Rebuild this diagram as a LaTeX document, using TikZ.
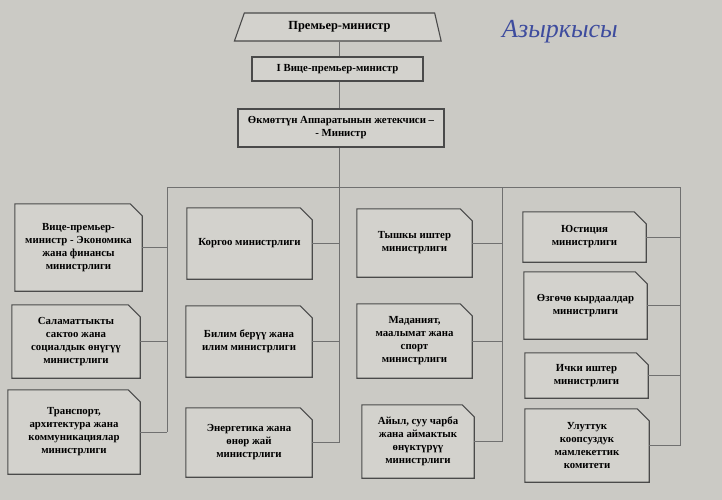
\documentclass[tikz,border=0pt]{standalone}
\usepackage{fontspec}
\setmainfont{Liberation Serif}
\usetikzlibrary{shapes.geometric, backgrounds}
\definecolor{paper}{HTML}{CBCAC5}
\definecolor{boxbg}{HTML}{D3D2CD}
\definecolor{ink}{HTML}{4A4A4A}
\definecolor{wire}{HTML}{707070}
\definecolor{pen}{HTML}{3E4C9E}

\tikzset{
  unit/.style={draw=none, minimum width=#1, inner sep=2pt, align=center,
               font=\fontsize{10.8}{13}\selectfont\bfseries},
  head/.style={draw=ink, line width=1.1pt, fill=boxbg, align=center,
               font=\fontsize{10.8}{13}\selectfont\bfseries},
  link/.style={draw=wire, line width=0.8pt}
}

\begin{document}
\begin{tikzpicture}[x=1pt, y=-1pt]
    \begin{pgfonlayer}{background}
      \fill[paper] (0,0) rectangle (722,500);
    \end{pgfonlayer}
    \useasboundingbox (0,0) rectangle (722,500);

    % top of the structure
    \node[head, trapezium, trapezium stretches=true, trapezium left angle=72,
          trapezium right angle=78, minimum width=207, minimum height=28,
          font=\fontsize{12.4}{14}\selectfont\bfseries]
          (pm) at (339.5,27) {Премьер-министр};
    \node[head, minimum width=171, minimum height=24] (vpm) at (337.5,69)
          {I Вице-премьер-министр};
    \node[head, minimum width=206, minimum height=38] (chief) at (341,128)
          {Өкмөттүн Аппаратынын жетекчиси –\\- Министр};

    % ministries, column by column
    \node[unit=127, minimum height=87] (a1) at (78.5,247.5)
          {Вице-премьер-\\министр - Экономика\\жана финансы\\министрлиги};
    \node[unit=128, minimum height=73] (a2) at (76,341.5)
          {Саламаттыкты\\сактоо жана\\социалдык өнүгүү\\министрлиги};
    \node[unit=132, minimum height=84] (a3) at (74,432)
          {Транспорт,\\архитектура жана\\коммуникациялар\\министрлиги};

    \node[unit=125, minimum height=71] (b1) at (249.5,243.5)
          {Коргоо министрлиги};
    \node[unit=126, minimum height=71] (b2) at (249,341.5)
          {Билим берүү жана\\илим министрлиги};
    \node[unit=126, minimum height=69] (b3) at (249,442.5)
          {Энергетика жана\\өнөр жай\\министрлиги};

    \node[unit=115, minimum height=68] (c1) at (414.5,243)
          {Тышкы иштер\\министрлиги};
    \node[unit=115, minimum height=74] (c2) at (414.5,341)
          {Маданият,\\маалымат жана\\спорт\\министрлиги};
    \node[unit=112, minimum height=73] (c3) at (418,441.5)
          {Айыл, суу чарба\\жана аймактык\\өнүктүрүү\\министрлиги};

    \node[unit=123, minimum height=50] (d1) at (584.5,237)
          {Юстиция\\министрлиги};
    \node[unit=123, minimum height=67] (d2) at (585.5,305.5)
          {Өзгөчө кырдаалдар\\министрлиги};
    \node[unit=123, minimum height=45] (d3) at (586.5,375.5)
          {Ички иштер\\министрлиги};
    \node[unit=124, minimum height=73] (d4) at (587,445.5)
          {Улуттук\\коопсуздук\\мамлекеттик\\комитети};

    % outlines with the cut corner, behind the texts
    \begin{pgfonlayer}{background}
      \foreach \n in {a1,a2,a3,b1,b2,b3,c1,c2,c3,d1,d2,d3,d4}
        \filldraw[draw=ink, fill=boxbg, line width=1.1pt, line join=miter]
          (\n.south west) -- (\n.north west) -- ([xshift=-12pt]\n.north east)
          -- ([yshift=-12pt]\n.north east) -- (\n.south east) -- cycle;
    \end{pgfonlayer}

    % bus and branches
    \coordinate (ja) at (167,187);
    \coordinate (jb) at (339,187);
    \coordinate (jc) at (502,187);
    \coordinate (jd) at (680,187);
    \draw[link] (pm.south -| jb) -- (vpm.north -| jb);
    \draw[link] (vpm.south -| jb) -- (chief.north -| jb);
    \draw[link] (chief.south -| jb) -- (jb);
    \draw[link] (ja) -- (jd);
    \draw[link] (ja) -- (ja |- a3.east);
    \draw[link] (jb) -- (jb |- b3.east);
    \draw[link] (jc) -- (jc |- c3.east);
    \draw[link] (jd) -- (jd |- d4.east);
    \foreach \n/\j in {a1/ja,a2/ja,a3/ja,b1/jb,b2/jb,b3/jb,c1/jc,c2/jc,c3/jc,d1/jd,d2/jd,d3/jd,d4/jd}
      \draw[link] (\n.east) -- (\n.east -| \j);

    % note written by hand
    \node[text=pen, font=\fontsize{26}{26}\selectfont\itshape] (note) at (560,32) {Азыркысы};
\end{tikzpicture}
\end{document}
